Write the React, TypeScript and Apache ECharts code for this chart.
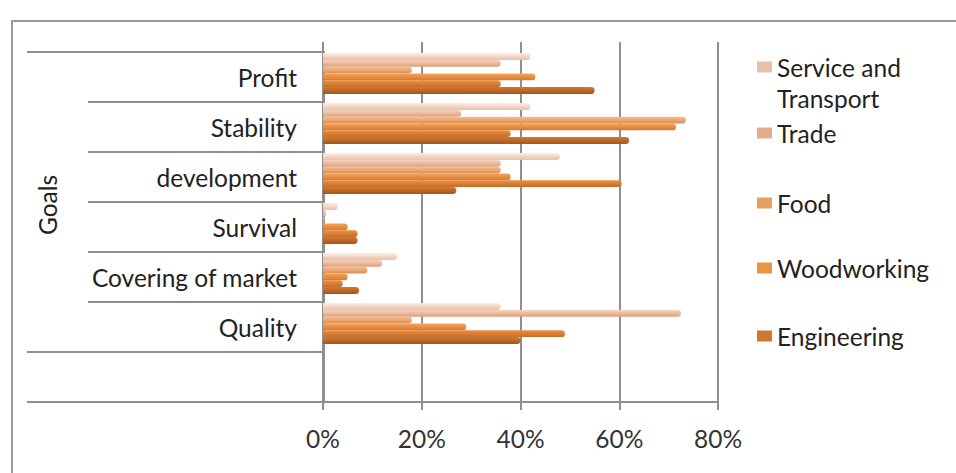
import React, { useEffect, useRef } from "react";
import * as echarts from "echarts";

// ---------- data ----------
const goals = ["Profit", "Stability", "development", "Survival", "Covering of market", "Quality", ""];
const seriesNames = ["Service and Transport", "Trade", "Food", "Woodworking", "Engineering", "Other"];
const serviceTransport = [42, 42, 48, 3, 15, 36, null];
const trade = [36, 28, 36, 0.6, 12, 72.5, null];
const food = [18, 73.5, 36, 0.3, 9, 18, null];
const woodworking = [43, 71.5, 38, 5, 5, 29, null];
const engineering = [36, 38, 60.5, 7, 4, 49, null];
const other = [55, 62, 27, 7, 7.3, 40, null];
const xTickMax = 80;
const xTickStep = 20;
const axisTitle = "Goals";

const seriesData = [serviceTransport, trade, food, woodworking, engineering, other];
const barTop = ["#FDEDE2", "#FAD4BC", "#F9BE90", "#F8A459", "#EC8F42", "#D27832"];
const barBottom = ["#E8C0A8", "#D9A07E", "#DA8E57", "#D47A2F", "#C56C26", "#A3561C"];
const legendColors = ["#E7C0AA", "#E3AC8C", "#E69E62", "#EB9442", "#CB7833"];

const GRAY = "#8f8f8f";

export default function App() {
  const ref = useRef<HTMLDivElement>(null);
  useEffect(() => {
    if (!ref.current) return;
    const chart = echarts.init(ref.current, undefined, { renderer: "svg" });
    const font = "Lato";
    const fs = 24.5;
    const legendTops = [51.5, 117.5, 187.5, 252.5, 320.5];
    const legends = seriesNames.slice(0, 5).map((name, i) => ({
      data: [{ name, itemStyle: { color: legendColors[i] } }],
      orient: "vertical",
      left: 757,
      top: legendTops[i],
      padding: 0,
      itemWidth: 15,
      itemHeight: 11,
      icon: "rect",
      selectedMode: false,
      formatter: i === 0 ? "Service and" : "{name}",
      textStyle: { fontFamily: font, fontSize: fs, color: "#222", lineHeight: 31 },
    }));

    const option: any = {
      animation: false,
      backgroundColor: "#ffffff",
      textStyle: { fontFamily: font },
      grid: [
        { left: 323, right: 238, top: 52, bottom: 71 },
        { left: 323, right: 238, top: 48.5, bottom: 74.5 },
        { left: 323, right: 238, top: 42, bottom: 71 },
      ],
      xAxis: [
        {
          gridIndex: 0,
          type: "value",
          min: 0,
          max: xTickMax,
          interval: xTickStep,
          axisLine: { show: true, lineStyle: { color: GRAY, width: 2 } },
          axisTick: { show: true, length: 8, lineStyle: { color: GRAY, width: 2 } },
          axisLabel: { formatter: "{value}%", fontFamily: font, fontSize: fs, color: "#333", margin: 24 },
          splitLine: { show: false },
        },
        { gridIndex: 1, type: "value", min: 0, max: xTickMax, show: false },
        {
          gridIndex: 2,
          type: "value",
          min: 0,
          max: xTickMax,
          interval: xTickStep,
          axisLine: { show: false },
          axisTick: { show: false },
          axisLabel: { show: false },
          splitLine: { show: true, lineStyle: { color: GRAY, width: 2 } },
        },
      ],
      yAxis: [
        {
          gridIndex: 0,
          type: "category",
          inverse: true,
          data: goals,
          position: "left",
          axisLine: { show: true, lineStyle: { color: GRAY, width: 3 } },
          axisTick: { show: true, length: 235, interval: 0, lineStyle: { color: GRAY, width: 2 } },
          axisLabel: { fontFamily: font, fontSize: fs, color: "#222", margin: 26, interval: 0 },
          splitLine: { show: false },
        },
        {
          gridIndex: 0,
          type: "value",
          min: 0,
          max: 7,
          interval: 1,
          position: "left",
          axisLine: { show: false },
          axisLabel: { show: false },
          splitLine: { show: false },
          axisTick: { show: true, customValues: [0, 1, 7], length: 296, lineStyle: { color: GRAY, width: 2 } },
        },
        { gridIndex: 1, type: "category", inverse: true, data: goals, show: false },
        { gridIndex: 2, type: "value", show: false, min: 0, max: 1 },
      ],
      legend: legends,
      graphic: [
        {
          type: "rect",
          shape: { x: 12, y: 21, width: 1000, height: 500 },
          style: { fill: "none", stroke: "#9a9a9a", lineWidth: 2 },
          z: 0,
        },
        {
          type: "text",
          x: 47,
          y: 205,
          rotation: Math.PI / 2,
          style: {
            text: axisTitle,
            fontFamily: font,
            fontSize: fs,
            fill: "#222",
            align: "center",
            verticalAlign: "middle",
          },
        },
        {
          type: "text",
          x: 777,
          y: 98,
          style: {
            text: "Transport",
            fontFamily: font,
            fontSize: fs,
            fill: "#222",
            align: "left",
            verticalAlign: "middle",
          },
        },
      ],
      series: seriesNames.map((name, i) => ({
        type: "bar",
        name,
        xAxisIndex: 1,
        yAxisIndex: 2,
        data: seriesData[i],
        barWidth: 6.8,
        barGap: "0%",
        itemStyle: {
          color: new echarts.graphic.LinearGradient(0, 0, 0, 1, [
            { offset: 0, color: barTop[i] },
            { offset: 1, color: barBottom[i] },
          ]),
          borderRadius: [0, 3.4, 3.4, 0],
        },
      })),
    };
    chart.setOption(option);
    return () => chart.dispose();
  }, []);
  return (
    <div
      ref={ref}
      style={{ position: "fixed", left: 0, top: 0, width: 956, height: 473, background: "#fff" }}
    />
  );
}
